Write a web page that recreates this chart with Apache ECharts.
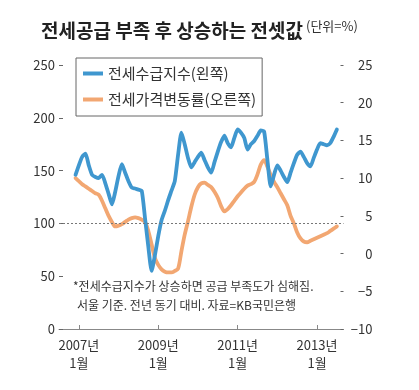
<!DOCTYPE html>
<html><head><meta charset="utf-8">
<script src="https://cdn.jsdelivr.net/npm/echarts@6/dist/echarts.min.js"></script>
<style>html,body{margin:0;padding:0;background:#fff}#c{width:419px;height:390px}</style>
</head><body><div id="c"></div>
<script>
// Monthly series, 2006-12 .. 2013-07
const supplyIndex = [146,155,163,166,155,146,144,143,146,138,128,118,130,145,156,148,140,134,133,132,131,105,78,55,70,88,103,112,122,131,140,165,186,175,162,153,158,163,167,160,153,148,158,168,177,183,176,172,181,189,186,181,170,175,178,183,188,187,160,135,146,155,150,144,139,148,157,165,168,163,157,154,162,170,176,175,174,176,182,189];
const priceChange = [10.0,9.6,9.2,8.9,8.6,8.3,8.0,7.8,7.0,6.0,5.0,4.2,3.6,3.7,3.9,4.2,4.5,4.7,4.8,4.7,4.5,4.2,3.0,1.2,-0.6,-1.5,-2.1,-2.4,-2.5,-2.5,-2.3,-2.0,0.3,2.5,4.3,6.2,7.8,8.8,9.3,9.4,9.1,8.8,8.2,7.4,6.3,5.6,5.9,6.4,7.0,7.6,8.1,8.6,9.0,9.2,9.5,10.5,11.8,12.4,11.5,10.4,9.5,8.8,8.0,7.2,6.4,5.0,4.0,2.8,2.0,1.6,1.5,1.7,1.9,2.1,2.3,2.5,2.7,3.0,3.3,3.6];
const dataStart = '2006-12';
const axisStart = '2006-07';
const axisEnd = '2013-09';
const tickMonths = ['2007-01','2009-01','2011-01','2013-01'];
const leftTicks = [0,50,100,150,200,250];
const rightTicks = [-10,-5,0,5,10,15,20,25];
const seriesNames = ['전세수급지수(왼쪽)','전세가격변동률(오른쪽)'];
const titleText = '전세공급 부족 후 상승하는 전셋값';
const unitText = '(단위=%)';
const noteLines = ['*전세수급지수가 상승하면 공급 부족도가 심해짐.','서울 기준. 전년 동기 대비. 자료=KB국민은행'];

function monthList(a, b){
  let [y,m] = a.split('-').map(Number); const out=[];
  while(true){ const s = y+'-'+String(m).padStart(2,'0'); out.push(s); if(s===b) break; m++; if(m>12){m=1;y++;} }
  return out;
}
const months = monthList(axisStart, axisEnd);
const offset = months.indexOf(dataStart);
function pad(arr){ return months.map((_,i)=> (i>=offset && i-offset<arr.length) ? arr[i-offset] : null); }

const F = '"Noto Sans CJK KR","Noto Sans",sans-serif';
const blue = '#3f97cf', orange = '#f2a772';
const chart = echarts.init(document.getElementById('c'));
chart.setOption({
  animation:false,
  textStyle:{fontFamily:F},
  title:{text:titleText, left:36, top:16,
    textStyle:{fontSize:19,fontWeight:'bold',color:'#222',fontFamily:F}},
  graphic:[
    {type:'text', left:306, top:20, style:{text:unitText, fontSize:13, fill:'#333', fontFamily:F}},
    {type:'text', left:73, top:280, style:{text:noteLines[0], fontSize:12, fill:'#333', fontFamily:F}},
    {type:'text', left:77, top:299, style:{text:noteLines[1], fontSize:12, fill:'#333', fontFamily:F}}
  ],
  legend:{data:seriesNames, orient:'vertical', left:76, top:58, padding:[8,6,9,7],
    borderColor:'#666', borderWidth:1, backgroundColor:'#fff', itemGap:11,
    icon:'rect', itemWidth:20, itemHeight:4,
    textStyle:{fontSize:15,color:'#333',fontFamily:F}},
  grid:{left:59, right:75.5, top:65, bottom:61},
  xAxis:{type:'category', data:months, boundaryGap:false,
    axisLine:{lineStyle:{color:'#888',width:1}},
    axisTick:{inside:true, length:4, lineStyle:{color:'#888'}, interval:(i,v)=>tickMonths.includes(v)},
    axisLabel:{interval:(i,v)=>tickMonths.includes(v), margin:7, fontSize:13, color:'#333', lineHeight:18,
      formatter:v=>{const [y,m]=v.split('-');return y+'년\n'+Number(m)+'월';}},
    splitLine:{show:false}},
  yAxis:[
    {type:'value', min:leftTicks[0], max:leftTicks[leftTicks.length-1], interval:50, position:'left',
      axisLine:{show:false}, axisTick:{show:true, inside:true, length:4, lineStyle:{color:'#666'}},
      axisLabel:{fontSize:13, color:'#333', margin:4}, splitLine:{show:false}},
    {type:'value', min:rightTicks[0], max:rightTicks[rightTicks.length-1], interval:5, position:'right',
      axisLine:{show:false}, axisTick:{show:true, inside:true, length:3, lineStyle:{color:'#666'}},
      axisLabel:{fontSize:13, color:'#333', align:'right', margin:29,
        formatter:v=> v<0 ? '\u2212'+Math.abs(v) : String(v)}, splitLine:{show:false}}
  ],
  series:[
    {name:seriesNames[1], type:'line', yAxisIndex:1, data:pad(priceChange), showSymbol:false, smooth:0.3,
      lineStyle:{color:orange,width:3.8,cap:'round',join:'round'}, itemStyle:{color:orange}},
    {name:seriesNames[0], type:'line', yAxisIndex:0, data:pad(supplyIndex), showSymbol:false, smooth:0.2,
      lineStyle:{color:blue,width:3.8,cap:'round',join:'round'}, itemStyle:{color:blue},
      markLine:{silent:true, symbol:'none', label:{show:false},
        lineStyle:{color:'#777',type:[2,2],width:1}, data:[{yAxis:100}]}}
  ]
});
</script></body></html>
